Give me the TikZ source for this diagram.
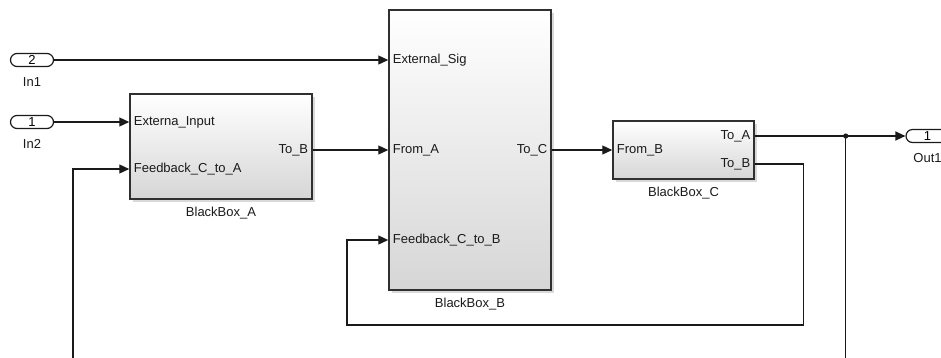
\documentclass[tikz,border=0pt]{standalone}
\usepackage{fontspec}
\setmainfont{Liberation Sans}
\usetikzlibrary{arrows.meta, positioning, calc, shadows}
\definecolor{cline}{HTML}{1A1A1A}
\definecolor{cedge}{HTML}{303030}
\definecolor{cfill}{HTML}{D6D6D6}
\tikzset{
  every picture/.style={font=\fontsize{13}{15}\selectfont, line width=1.2pt},
  blk/.style={draw=cedge, line width=1.5pt, top color=white, bottom color=cfill, inner sep=0pt,
    drop shadow={shadow xshift=3pt, shadow yshift=-3pt, opacity=0.3}},
  pin/.style={inner xsep=4pt, inner ysep=0pt, text=cline},
  ioport/.style={draw=cline, fill=white, rounded corners=6.5pt, minimum width=43pt, minimum height=13pt, inner sep=0pt, line width=1.2pt},
  wire/.style={-{Triangle[length=10pt, width=9pt]}, draw=cline, line width=1.2pt},
  blkname/.style={inner sep=0pt, text=cline},
}

\begin{document}
\begin{tikzpicture}[x=1pt, y=-1pt]
  % canvas in pixels of the screenshot, y grows downwards
  \useasboundingbox (0,0) rectangle (941,357);
  \clip (0,0) rectangle (941,357);
  % in/out ports
  \node[ioport] (in1) at (32,60) {2};
  \node[blkname, below=10pt of in1] (in1-name) {In1};
  \node[ioport] (in2) at (32,122) {1};
  \node[blkname, below=10pt of in2] (in2-name) {In2};
  \node[ioport] (out1) at (927.5,136) {1};
  \node[blkname, below=10pt of out1] (out1-name) {Out1};
  % the three subsystems
  \node[blk, minimum width=182pt, minimum height=105pt] (bbA) at (221,146.5) {};
  \node[blk, minimum width=162pt, minimum height=280pt] (bbB) at (470,150) {};
  \node[blk, minimum width=141pt, minimum height=58pt] (bbC) at (683.5,150) {};
  \node[blkname, below=7pt of bbA] (bbA-name) {BlackBox\_A};
  \node[blkname, below=7pt of bbB] (bbB-name) {BlackBox\_B};
  \node[blkname, below=7pt of bbC] (bbC-name) {BlackBox\_C};
  % port labels
  \node[pin, anchor=west] (A-ext) at (bbA.west |- in2) {Externa\_Input};
  \node[pin, anchor=west] (A-fb) at ($(bbA.west)+(0,22.5)$) {Feedback\_C\_to\_A};
  \node[pin, anchor=east] (A-tob) at (bbA.east |- bbB.west) {To\_B};
  \node[pin, anchor=west] (B-ext) at (bbB.west |- in1) {External\_Sig};
  \node[pin, anchor=west] (B-froma) at (bbB.west) {From\_A};
  \node[pin, anchor=west] (B-fb) at ($(bbB.west)+(0,90)$) {Feedback\_C\_to\_B};
  \node[pin, anchor=east] (B-toc) at (bbB.east) {To\_C};
  \node[pin, anchor=west] (C-fromb) at (bbC.west) {From\_B};
  \node[pin, anchor=east] (C-toa) at ($(bbC.east)+(0,-14)$) {To\_A};
  \node[pin, anchor=east] (C-tob) at ($(bbC.east)+(0,14)$) {To\_B};
  \coordinate (jn) at ($(C-toa.east)+(91,0)$);
  % signal lines
  \draw[wire] (in1.east) -- (B-ext.west);
  \draw[wire] (in2.east) -- (A-ext.west);
  \draw[wire] (A-tob.east) -- (B-froma.west);
  \draw[wire] (B-toc.east) -- (C-fromb.west);
  \draw[wire] (C-toa.east) -- (out1.west);
  \fill[cline] (jn) circle (2.6);
  \draw[wire] (C-tob.east) -- ++(49,0) |- (347,325) |- (B-fb.west);
  \draw[wire] (jn) |- (73,400) |- (A-fb.west);
\end{tikzpicture}
\end{document}
